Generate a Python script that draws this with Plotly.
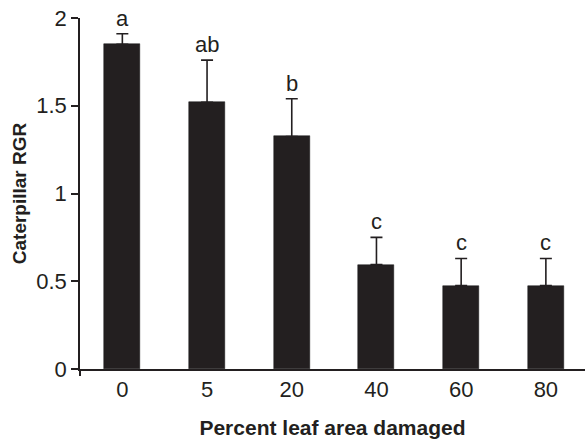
import plotly.graph_objects as go

categories = ["0", "5", "20", "40", "60", "80"]
rgr_mean = [1.85, 1.52, 1.325, 0.595, 0.475, 0.475]
rgr_se = [0.06, 0.24, 0.215, 0.155, 0.155, 0.155]
letters = ["a", "ab", "b", "c", "c", "c"]

ink = "#231f20"
xpos = list(range(len(categories)))

fig = go.Figure()
fig.add_trace(go.Bar(
    x=xpos, y=rgr_mean, width=0.425,
    marker=dict(color=ink, line=dict(color="#111", width=0.5)),
    error_y=dict(type="data", array=rgr_se, arrayminus=[0] * len(rgr_se),
                 symmetric=False, color=ink, thickness=1.6, width=6),
    showlegend=False,
))

for xi, m, e, t in zip(xpos, rgr_mean, rgr_se, letters):
    fig.add_annotation(x=xi, y=m + e, text=t, showarrow=False,
                       yanchor="bottom", yshift=1,
                       font=dict(family="Liberation Sans, Arial", size=22, color=ink))

fig.update_layout(
    width=585, height=441,
    margin=dict(l=80, r=0, t=18, b=72),
    plot_bgcolor="white", paper_bgcolor="white",
    font=dict(family="Liberation Sans, Arial", size=22, color=ink),
    bargap=0,
)
fig.update_xaxes(
    range=[-0.5, 5.462],
    tickmode="array", tickvals=xpos, ticktext=categories,
    showline=True, linecolor=ink, linewidth=1.5,
    ticks="", showgrid=False, zeroline=False,
    minor=dict(tickmode="array", tickvals=[-0.5], ticks="outside", ticklen=5, tickcolor=ink, tickwidth=1.5),
    tickfont=dict(size=22),
    title=dict(text="<b>Percent leaf area damaged</b>", font=dict(size=21), standoff=19),
)
fig.update_yaxes(
    range=[0, 2],
    tickmode="array", tickvals=[0, 0.5, 1, 1.5, 2], ticktext=["0", "0.5", "1", "1.5", "2"],
    showline=True, linecolor=ink, linewidth=1.5,
    ticks="outside", ticklen=7, tickcolor=ink, tickwidth=1.5,
    showgrid=False, zeroline=False,
    tickfont=dict(size=22),
    title=dict(text="<b>Caterpillar RGR</b>", font=dict(size=19), standoff=5),
)

fig.write_html("out.html", config={"displayModeBar": False},
               post_script="document.body.style.margin='0';")
